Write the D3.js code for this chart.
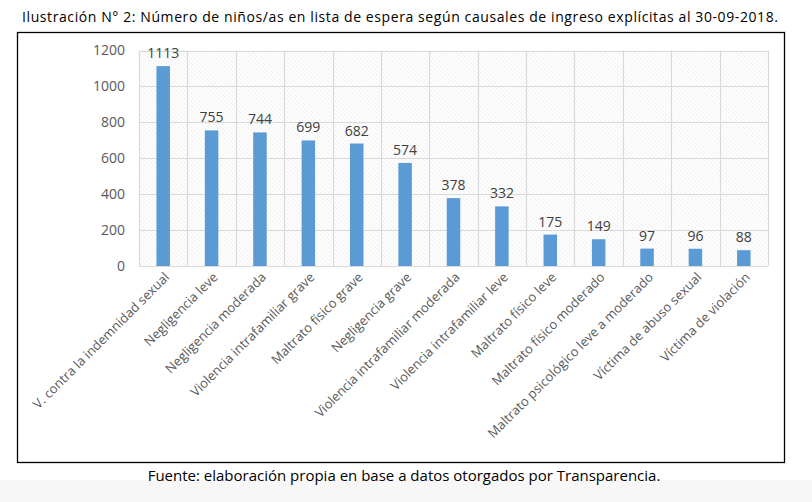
<!DOCTYPE html>
<head>
<meta charset="utf-8">
<title></title>
<style>
body { margin: 0; background: #fff; }
text { font-family: "Open Sans", "Noto Sans", sans-serif; }
</style>
</head>
<body>
<script src="https://d3js.org/d3.v7.min.js"></script>
<script>
// categories and counts
var categories = [
  "V. contra la indemnidad sexual",
  "Negligencia leve",
  "Negligencia moderada",
  "Violencia intrafamiliar grave",
  "Maltrato físico grave",
  "Negligencia grave",
  "Violencia intrafamiliar moderada",
  "Violencia intrafamiliar leve",
  "Maltrato físico leve",
  "Maltrato físico moderado",
  "Maltrato psicológico leve a moderado",
  "Víctima de abuso sexual",
  "Víctima de violación"
];
var counts = [1113, 755, 744, 699, 682, 574, 378, 332, 175, 149, 97, 96, 88];
var yTicks = [0, 200, 400, 600, 800, 1000, 1200];

var width = 812, height = 502;
var svg = d3.select("body").append("svg")
  .attr("width", width)
  .attr("height", height);

// light gray band at the very bottom of the page
svg.append("rect").attr("x", 0).attr("y", 480).attr("width", width).attr("height", 22).attr("fill", "#f7f7f7");

// title
svg.append("text")
  .attr("x", 400).attr("y", 22)
  .attr("text-anchor", "middle")
  .attr("font-size", 14)
  .attr("textLength", 756)
  .attr("fill", "#000")
  .text("Ilustración N° 2: Número de niños/as en lista de espera según causales de ingreso explícitas al 30-09-2018.");

// frame
svg.append("rect")
  .attr("x", 17.5).attr("y", 32.5).attr("width", 767).attr("height", 430)
  .attr("fill", "#fff").attr("stroke", "#000").attr("stroke-width", 1.3);

// hatch pattern for the plot background
var defs = svg.append("defs");
var pat = defs.append("pattern")
  .attr("id", "hatch")
  .attr("patternUnits", "userSpaceOnUse")
  .attr("width", 3).attr("height", 3)
  .attr("patternTransform", "rotate(-45)");
pat.append("line").attr("x1", 0).attr("y1", 0).attr("x2", 0).attr("y2", 3)
  .attr("stroke", "#e3e3e3").attr("stroke-width", 1);

var margin = { left: 139, top: 50.5, right: 768, bottom: 266 };

var x = d3.scaleBand()
  .domain(categories)
  .range([margin.left, margin.right])
  .paddingInner(0).paddingOuter(0);

var y = d3.scaleLinear()
  .domain([0, 1200])
  .range([margin.bottom, margin.top]);

svg.append("rect")
  .attr("x", margin.left).attr("y", margin.top)
  .attr("width", margin.right - margin.left).attr("height", margin.bottom - margin.top)
  .attr("fill", "url(#hatch)");

// gridlines
var grid = svg.append("g").attr("stroke", "#d9d9d9").attr("stroke-width", 1.2);
grid.selectAll("line.h").data(yTicks).enter().append("line")
  .attr("x1", margin.left).attr("x2", margin.right)
  .attr("y1", d => Math.round(y(d)) + 0.5).attr("y2", d => Math.round(y(d)) + 0.5);
grid.selectAll("line.v").data(categories.concat(["_end"])).enter().append("line")
  .attr("x1", (d, i) => Math.round(margin.left + i * x.bandwidth()) + 0.5)
  .attr("x2", (d, i) => Math.round(margin.left + i * x.bandwidth()) + 0.5)
  .attr("y1", margin.top).attr("y2", margin.bottom);

// y axis labels
var yAxis = d3.axisLeft(y).tickValues(yTicks).tickFormat(d3.format("d")).tickSize(0).tickPadding(14);
var ya = svg.append("g").attr("transform", "translate(" + margin.left + ",0)").call(yAxis);
ya.select(".domain").remove();
ya.selectAll("text").attr("font-size", 14).attr("fill", "#595959")
  .attr("font-family", "'Open Sans', sans-serif");

// bars
var barW = 13.5;
svg.selectAll("rect.bar").data(counts).enter().append("rect")
  .attr("class", "bar")
  .attr("x", (d, i) => x(categories[i]) + x.bandwidth() / 2 - barW / 2)
  .attr("y", d => y(d))
  .attr("width", barW)
  .attr("height", d => y(0) - y(d))
  .attr("fill", "#5b9bd5");

// value labels
svg.selectAll("text.val").data(counts).enter().append("text")
  .attr("class", "val")
  .attr("x", (d, i) => x(categories[i]) + x.bandwidth() / 2)
  .attr("y", d => y(d) - 8)
  .attr("text-anchor", "middle")
  .attr("font-size", 14)
  .attr("fill", "#404040")
  .text(d => d);

// rotated category labels
var xAxis = d3.axisBottom(x).tickSize(0).tickPadding(0);
var xa = svg.append("g").attr("transform", "translate(0," + margin.bottom + ")").call(xAxis);
xa.select(".domain").remove();
xa.selectAll("text")
  .attr("font-size", 13)
  .attr("fill", "#595959")
  .attr("font-family", "'Open Sans', sans-serif")
  .attr("text-anchor", "end")
  .attr("dy", 0)
  .attr("transform", "translate(7,12) rotate(-45)");

// source note
svg.append("text")
  .attr("x", 404).attr("y", 481)
  .attr("text-anchor", "middle")
  .attr("font-size", 15)
  .attr("fill", "#000")
  .text("Fuente: elaboración propia en base a datos otorgados por Transparencia.");
</script>
</body>
</html>
